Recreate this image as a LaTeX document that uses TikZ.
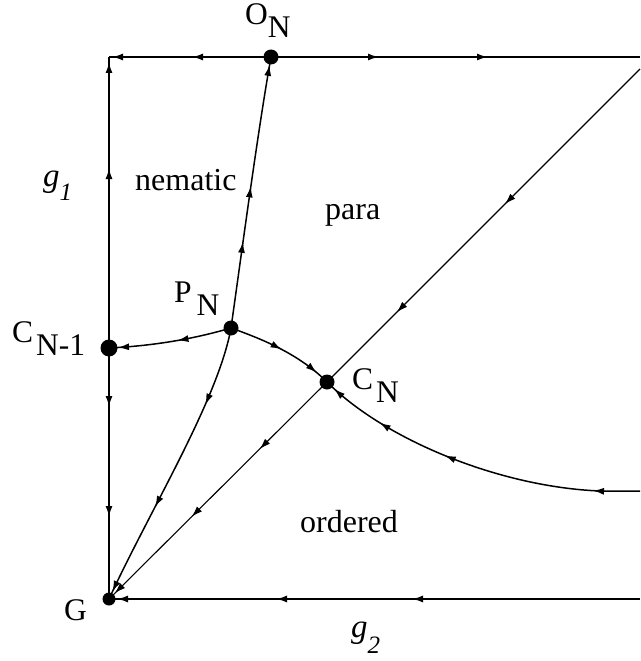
\documentclass[tikz,border=0pt]{standalone}
\usepackage{fontspec}
\setmainfont{Liberation Serif}
\usetikzlibrary{arrows.meta,decorations.markings,backgrounds}
\tikzset{
  >={Latex[length=11pt,width=7pt]},
  dot/.style={circle,fill=black,inner sep=0pt,minimum size=#1},
  lbl/.style={inner sep=0pt,anchor=base west,font=\fontsize{31.5}{31.5}\selectfont},
  region/.style={inner sep=0pt,anchor=base west,font=\fontsize{32}{32}\selectfont},
  axisline/.style={line width=1.9pt},
  flow/.style={line width=1.5pt},
  sepline/.style={line width=1.1pt},
  tipat/.style={/pgf/decoration/mark={at position #1 with {\arrow{>}}}},
  tips/.style={postaction={decorate,decoration=markings,#1}},
}
\begin{document}
\begin{tikzpicture}[x=1pt,y=-1pt]
\useasboundingbox (0,0) rectangle (640,661);
% fixed points
\node[dot=15pt] (ON) at (271,57) {};
\node[dot=15pt] (PN) at (231,328) {};
\node[dot=17pt] (CN1) at (109,348) {};
\node[dot=15pt] (CN) at (327,382) {};
\node[dot=13pt] (G) at (109,599) {};
\coordinate (TL) at (109,57);
\coordinate (TR) at (640,57);
\coordinate (BR) at (640,599);
\coordinate (DR) at (640,69);
\coordinate (RE) at (640,491);
\coordinate (RS) at (600,491);
\begin{scope}[on background layer]
% axes
\draw[axisline,tips={tipat=79pt,tipat=159pt}] (ON.center) -- (TL);
\draw[axisline,tips={tipat=108pt,tipat=217pt}] (ON.center) -- (TR);
\draw[axisline,tips={tipat=180pt,tipat=286pt}] (CN1.center) -- (TL);
\draw[axisline,tips={tipat=59pt,tipat=169pt}] (CN1.center) -- (G.center);
\draw[axisline,tips={tipat=228pt,tipat=364pt,tipat=-8pt}] (BR) -- (G.center);
% diagonal
\draw[sepline,tips={tipat=191pt,tipat=344pt}] (DR) -- (CN.center);
\draw[sepline,tips={tipat=95pt,tipat=191pt,tipat=-8pt}] (CN.center) -- (G.center);
% flows from P_N
\draw[flow,tips={tipat=87pt,tipat=143pt,tipat=-8pt}] (PN.center) .. controls (242,250) and (258,130) .. (ON.center);
\draw[flow,tips={tipat=81pt,tipat=195pt,tipat=-8pt}] (PN.center) .. controls (218,400) and (150,510) .. (G.center);
\draw[flow,tips={tipat=55pt,tipat=-9pt}] (PN.center) .. controls (190,340) and (150,346) .. (CN1.center);
\draw[flow,tips={tipat=55pt,tipat=-14pt}] (PN.center) .. controls (265,340) and (300,355) .. (CN.center);
% flow from the right into C_N
\draw[flow,tips={tipat=47pt,tipat=200pt,tipat=273pt,tipat=-10pt}] (RE) -- (RS) .. controls (500,487) and (385,440) .. (CN.center);
\end{scope}
% labels
\node[lbl] (lON) at (245,25) {O\raisebox{-13pt}{N}};
\node[lbl] (lPN) at (174,302) {P\hspace{5pt}\raisebox{-13pt}{N}};
\node[lbl] (lCN1) at (12,342) {C\hspace{3pt}\raisebox{-13pt}{N-1}};
\node[lbl] (lCN) at (352,389) {C\hspace{3pt}\raisebox{-13pt}{N}};
\node[lbl] (lG) at (64,620) {G};
\node[lbl,font=\fontsize{33}{33}\selectfont] (lg1) at (43,186) {\textit{g}\raisebox{-14pt}{\fontsize{25}{25}\selectfont\textit{1}}};
\node[lbl,font=\fontsize{33}{33}\selectfont] (lg2) at (351,637) {\textit{g}\raisebox{-16pt}{\fontsize{25}{25}\selectfont\textit{2}}};
\node[region] (nem) at (135,190) {nematic};
\node[region] (para) at (325,219) {para};
\node[region] (ord) at (300,532) {ordered};
\end{tikzpicture}
\end{document}
